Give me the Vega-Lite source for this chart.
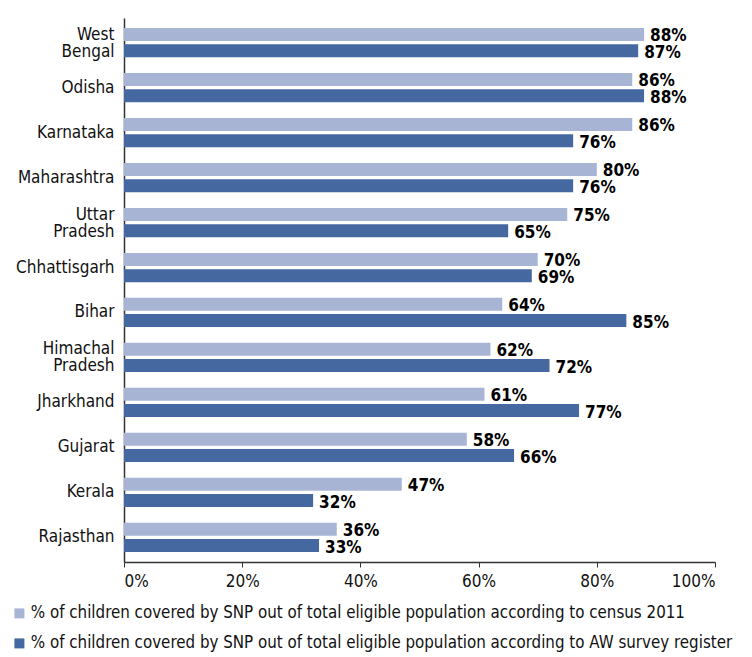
{
  "$schema": "https://vega.github.io/schema/vega-lite/v6.json",
  "autosize": "none",
  "width": 591,
  "height": 544,
  "padding": {"left": 124, "top": 18, "right": 37, "bottom": 95},
  "background": "white",
  "config": {
    "view": {"stroke": null},
    "font": "Liberation Sans Narrow, DejaVu Sans Condensed, Roboto Condensed, sans-serif"
  },
  "data": {
    "values": [
      {"state": "West Bengal", "series": "census", "value": 88},
      {"state": "West Bengal", "series": "aw", "value": 87},
      {"state": "Odisha", "series": "census", "value": 86},
      {"state": "Odisha", "series": "aw", "value": 88},
      {"state": "Karnataka", "series": "census", "value": 86},
      {"state": "Karnataka", "series": "aw", "value": 76},
      {"state": "Maharashtra", "series": "census", "value": 80},
      {"state": "Maharashtra", "series": "aw", "value": 76},
      {"state": "Uttar Pradesh", "series": "census", "value": 75},
      {"state": "Uttar Pradesh", "series": "aw", "value": 65},
      {"state": "Chhattisgarh", "series": "census", "value": 70},
      {"state": "Chhattisgarh", "series": "aw", "value": 69},
      {"state": "Bihar", "series": "census", "value": 64},
      {"state": "Bihar", "series": "aw", "value": 85},
      {"state": "Himachal Pradesh", "series": "census", "value": 62},
      {"state": "Himachal Pradesh", "series": "aw", "value": 72},
      {"state": "Jharkhand", "series": "census", "value": 61},
      {"state": "Jharkhand", "series": "aw", "value": 77},
      {"state": "Gujarat", "series": "census", "value": 58},
      {"state": "Gujarat", "series": "aw", "value": 66},
      {"state": "Kerala", "series": "census", "value": 47},
      {"state": "Kerala", "series": "aw", "value": 32},
      {"state": "Rajasthan", "series": "census", "value": 36},
      {"state": "Rajasthan", "series": "aw", "value": 33}
    ]
  },
  "encoding": {
    "y": {
      "field": "state",
      "type": "nominal",
      "sort": null,
      "title": null,
      "scale": {"paddingInner": 0.35, "paddingOuter": 0.22},
      "axis": {
        "ticks": false,
        "labelFontSize": 17,
        "labelColor": "#111",
        "labelPadding": 10,
        "labelExpr": "split(datum.label, ' ')",
        "labelLineHeight": 17,
        "labelOffset": {"condition": {"test": "indexof(datum.label, ' ') >= 0", "value": -8}, "value": 0},
        "domainColor": "#333",
        "domainWidth": 1.5
      }
    },
    "yOffset": {
      "field": "series",
      "type": "nominal",
      "sort": ["census", "aw"],
      "scale": {"paddingInner": 0.2}
    },
    "x": {
      "field": "value",
      "type": "quantitative",
      "title": null,
      "scale": {"domain": [0, 100]},
      "axis": {
        "values": [0, 20, 40, 60, 80, 100],
        "labelExpr": "datum.value + '%'",
        "grid": false,
        "labelFontSize": 17,
        "labelColor": "#111",
        "labelPadding": 6,
        "tickSize": 5,
        "tickColor": "#333",
        "domainColor": "#333",
        "domainWidth": 1.5
      }
    }
  },
  "layer": [
    {
      "mark": {"type": "bar"},
      "encoding": {
        "color": {
          "field": "series",
          "type": "nominal",
          "sort": ["census", "aw"],
          "scale": {"domain": ["census", "aw"], "range": ["#a8b4d4", "#44689f"]},
          "legend": {
            "title": null,
            "orient": "none",
            "direction": "vertical",
            "legendX": -113,
            "legendY": 587,
            "symbolType": "square",
            "symbolSize": 100,
            "symbolStrokeWidth": 0,
            "labelFontSize": 16.8,
            "labelColor": "#111",
            "rowPadding": 12,
            "labelOffset": 3,
            "padding": 0,
            "labelLimit": 800,
            "labelExpr": "datum.value == 'census' ? '% of children covered by SNP out of total eligible population according to census 2011' : '% of children covered by SNP out of total eligible population according to AW survey register'"
          }
        }
      }
    },
    {
      "transform": [{"calculate": "datum.value + '%'", "as": "label"}],
      "mark": {"type": "text", "align": "left", "baseline": "middle", "dx": 6, "dy": 2, "fontSize": 17, "fontWeight": "bold", "color": "#000"},
      "encoding": {
        "text": {"field": "label", "type": "nominal"},
        "detail": {"field": "series"}
      }
    }
  ]
}
